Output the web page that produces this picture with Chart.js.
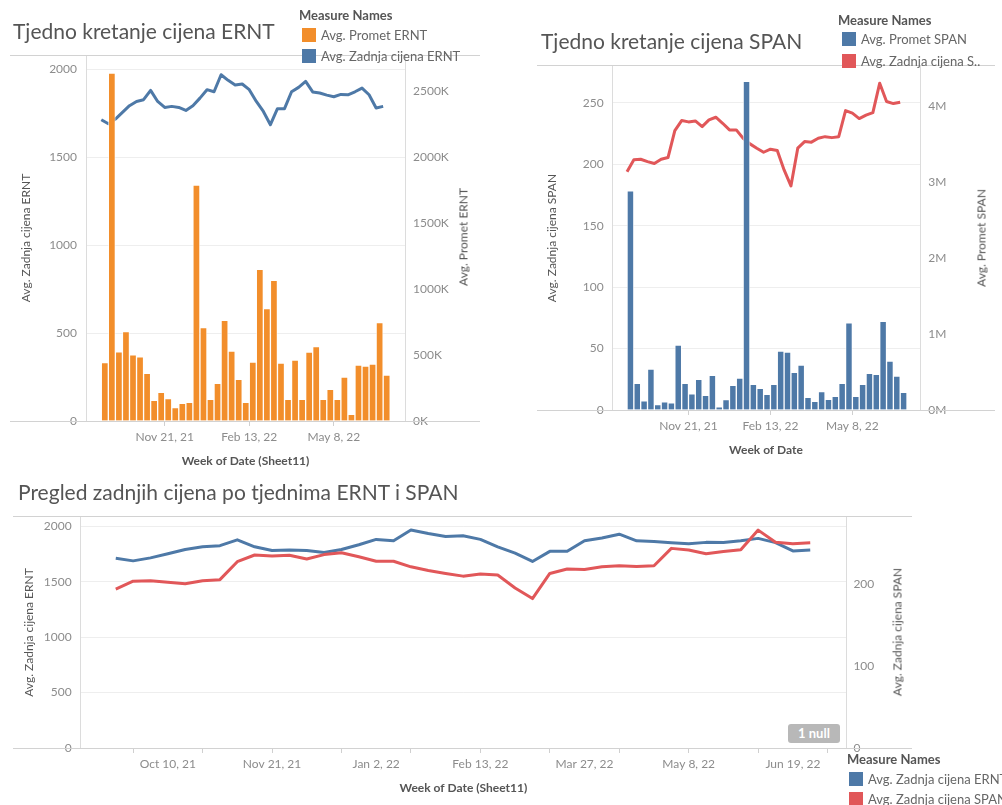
<!DOCTYPE html>
<html>
<head>
<meta charset="utf-8">
<script src="https://cdn.jsdelivr.net/npm/chart.js@4.4.0/dist/chart.umd.min.js"></script>
<style>
  body { margin: 0; width: 1002px; height: 805px; overflow: hidden; background: #fff; font-family: Lato, sans-serif; position: relative; }
  .naslov { position: absolute; font-size: 21px; line-height: 24px; color: #555; white-space: nowrap; }
  .crta { position: absolute; height: 1px; background: #d2d2d2; }
  .legNaslov { position: absolute; font-size: 13px; line-height: 16px; font-weight: bold; color: #555; white-space: nowrap; }
  .legStavka { position: absolute; font-size: 13px; line-height: 14px; color: #666; white-space: nowrap; }
  .legStavka span { position: absolute; left: 0; top: 0; width: 14px; height: 14px; }
  .legStavka i { position: absolute; left: 19px; top: 0; font-style: normal; }
  .osNaslov { position: absolute; font-size: 12px; color: #555; white-space: nowrap; transform: translate(-50%, -50%) rotate(-90deg); }
  .platno { position: absolute; }
  .null { position: absolute; left: 788px; top: 724px; width: 52px; height: 19px; line-height: 19px; background: #b8b8b8; border-radius: 3px; color: #fff; font-weight: bold; font-size: 13px; text-align: center; }
</style>
</head>
<body>

<canvas id="grafERNT" class="platno" style="left:0;top:0" width="500" height="480"></canvas>
<canvas id="grafSPAN" class="platno" style="left:530px;top:0" width="472" height="470"></canvas>
<canvas id="grafOba" class="platno" style="left:0;top:470px" width="1002" height="335"></canvas>

<div class="naslov" style="left:13px;top:19px">Tjedno kretanje cijena ERNT</div>
<div class="naslov" style="left:541px;top:29px">Tjedno kretanje cijena SPAN</div>
<div class="naslov" style="left:18px;top:480px">Pregled zadnjih cijena po tjednima ERNT i SPAN</div>

<div class="crta" style="left:10px;top:55px;width:470px"></div>
<div class="crta" style="left:10px;top:421px;width:470px"></div>
<div class="crta" style="left:537px;top:65px;width:458px"></div>
<div class="crta" style="left:537px;top:410px;width:458px"></div>
<div class="crta" style="left:13px;top:516px;width:899px"></div>
<div class="crta" style="left:13px;top:748px;width:899px"></div>

<div class="legNaslov" style="left:299px;top:7px">Measure Names</div>
<div class="legStavka" style="left:302px;top:28px"><span style="background:#F28E2B"></span><i>Avg. Promet ERNT</i></div>
<div class="legStavka" style="left:302px;top:49px"><span style="background:#4E79A7"></span><i>Avg. Zadnja cijena ERNT</i></div>

<div class="legNaslov" style="left:838px;top:12px">Measure Names</div>
<div class="legStavka" style="left:842px;top:32px"><span style="background:#4E79A7"></span><i>Avg. Promet SPAN</i></div>
<div class="legStavka" style="left:842px;top:54px"><span style="background:#E15759"></span><i>Avg. Zadnja cijena S..</i></div>

<div class="legNaslov" style="left:847px;top:751px">Measure Names</div>
<div class="legStavka" style="left:849px;top:772px"><span style="background:#4E79A7"></span><i>Avg. Zadnja cijena ERNT</i></div>
<div class="legStavka" style="left:849px;top:792px"><span style="background:#E15759"></span><i>Avg. Zadnja cijena SPAN</i></div>

<div class="osNaslov" style="left:463px;top:237px">Avg. Promet ERNT</div>
<div class="osNaslov" style="left:981px;top:238px">Avg. Promet SPAN</div>
<div class="osNaslov" style="left:897px;top:632px">Avg. Zadnja cijena SPAN</div>

<div class="null">1 null</div>

<script>
const tjedni = [
  'Sep 19, 21', 'Sep 26, 21', 'Oct 3, 21', 'Oct 10, 21', 'Oct 17, 21', 'Oct 24, 21', 'Oct 31, 21',
  'Nov 7, 21', 'Nov 14, 21', 'Nov 21, 21', 'Nov 28, 21', 'Dec 5, 21', 'Dec 12, 21', 'Dec 19, 21',
  'Dec 26, 21', 'Jan 2, 22', 'Jan 9, 22', 'Jan 16, 22', 'Jan 23, 22', 'Jan 30, 22', 'Feb 6, 22',
  'Feb 13, 22', 'Feb 20, 22', 'Feb 27, 22', 'Mar 6, 22', 'Mar 13, 22', 'Mar 20, 22', 'Mar 27, 22',
  'Apr 3, 22', 'Apr 10, 22', 'Apr 17, 22', 'Apr 24, 22', 'May 1, 22', 'May 8, 22', 'May 15, 22',
  'May 22, 22', 'May 29, 22', 'Jun 5, 22', 'Jun 12, 22', 'Jun 19, 22', 'Jun 26, 22'
];

const prometERNT = [
  442000, 2636000, 525000, 677000, 502000, 487000, 361000, 157000, 217000, 169000, 101000,
  134000, 142000, 1788000, 707000, 164000, 286000, 763000, 530000, 316000, 142000, 447000,
  1149000, 851000, 1066000, 439000, 164000, 462000, 164000, 523000, 563000, 164000, 240000,
  164000, 333000, 51000, 424000, 417000, 432000, 745000, 348000
];
const cijenaERNT = [
  1712, 1689, 1716, 1754, 1792, 1816, 1826, 1879, 1816, 1782, 1788, 1782, 1765, 1792, 1835,
  1883, 1871, 1968, 1936, 1909, 1915, 1883, 1816, 1759, 1684, 1775, 1775, 1871, 1896, 1930,
  1870, 1864, 1852, 1843, 1856, 1854, 1871, 1892, 1854, 1779, 1788
];
const prometSPAN = [
  2886000, 351000, 122000, 539000, 70000, 109000, 96000, 855000, 351000, 214000, 404000,
  193000, 457000, 43000, 136000, 325000, 421000, 4329000, 338000, 286000, 207000, 338000,
  776000, 763000, 496000, 592000, 167000, 114000, 241000, 141000, 180000, 351000, 1149000,
  180000, 338000, 483000, 470000, 1167000, 645000, 447000, 233000
];
const cijenaSPAN = [
  194.0, 203.6, 204.1, 202.2, 200.6, 204.1, 205.5, 227.4, 235.6, 234.5, 235.3, 230.7, 236.1,
  238.3, 233.4, 228.0, 228.0, 221.2, 216.6, 213.1, 209.8, 212.3, 211.2, 195.4, 182.4, 213.1,
  218.5, 218.0, 221.2, 222.5, 221.7, 222.5, 243.7, 241.6, 237.2, 240.0, 242.1, 266.0, 251.1,
  249.4, 250.5
];

// oznake na osima
const oznakeGore = [9, 21, 33];
const oznakeDolje = [3, 9, 15, 21, 27, 33, 39];
const crticeDolje = [1, 5, 9, 13, 17, 21, 25, 29, 33, 37, 41];
const ticksCijenaERNT = [0, 500, 1000, 1500, 2000];
const ticksPrometERNT = [0, 500000, 1000000, 1500000, 2000000, 2500000];
const ticksCijenaSPAN = [0, 50, 100, 150, 200, 250];
const ticksPrometSPAN = [0, 1000000, 2000000, 3000000, 4000000];
const ticksSPANdolje = [0, 100, 200];

const NARANCASTA = '#F28E2B';
const PLAVA = '#4E79A7';
const CRVENA = '#E15759';
const SIVA_TEKST = '#8c8c8c';
const FONT = 'Lato';
// stupci u Tableauu krecu od datuma, pa ih pomaknem pola tjedna
const POMAK = 0.5;

function uTocke(niz, pomak) {
  return niz.map((v, i) => ({ x: i + pomak, y: v }));
}

function xOs(min, max, visina, oznake, crtice, naslov, razmakNaslova, razmakOznaka) {
  const sve = [...new Set([...oznake, ...crtice])].sort((a, b) => a - b);
  return {
    type: 'linear',
    offset: false,
    min: min,
    max: max,
    afterBuildTicks: s => { s.ticks = sve.map(v => ({ value: v })); },
    afterFit: s => { s.height = visina; },
    border: { display: false },
    grid: {
      offset: false,
      drawOnChartArea: false,
      drawTicks: true,
      tickLength: 5,
      tickColor: c => (c.tick && crtice.includes(c.tick.value)) ? '#d0d0d0' : 'rgba(0,0,0,0)'
    },
    ticks: {
      autoSkip: false,
      maxRotation: 0,
      padding: razmakOznaka,
      color: SIVA_TEKST,
      font: { family: FONT, size: 12 },
      callback: v => oznake.includes(v) ? tjedni[v] : ''
    },
    title: {
      display: true,
      text: naslov,
      color: '#555',
      font: { family: FONT, size: 12, weight: 'bold' },
      padding: { top: 0, bottom: razmakNaslova }
    }
  };
}

function yOs(polozaj, max, vrijednosti, sirina, razmak, oblik, naslov, razmakNaslova, mreza) {
  const os = {
    position: polozaj,
    min: 0,
    max: max,
    afterBuildTicks: s => { s.ticks = vrijednosti.map(v => ({ value: v })); },
    afterFit: s => { s.width = sirina; },
    border: { display: true, color: '#dcdcdc' },
    grid: mreza ? { color: '#eeeeee', drawTicks: false } : { drawOnChartArea: false, drawTicks: false },
    ticks: {
      padding: razmak,
      color: SIVA_TEKST,
      font: { family: FONT, size: 12 },
      callback: oblik
    }
  };
  if (naslov) {
    os.title = {
      display: true,
      text: naslov,
      color: '#555',
      font: { family: FONT, size: 12 },
      padding: { top: razmakNaslova, bottom: 0 }
    };
  }
  return os;
}

const osnovno = {
  responsive: false,
  animation: false,
  plugins: { legend: { display: false }, tooltip: { enabled: false } }
};

new Chart(document.getElementById('grafERNT'), {
  type: 'bar',
  data: {
    datasets: [
      {
        type: 'bar',
        data: uTocke(prometERNT, POMAK),
        yAxisID: 'yPromet',
        backgroundColor: NARANCASTA,
        borderColor: 'rgba(255,255,255,0.6)',
        borderWidth: 1,
        barPercentage: 1,
        categoryPercentage: 1,
        order: 0
      },
      {
        type: 'line',
        data: uTocke(cijenaERNT, 0),
        yAxisID: 'yCijena',
        borderColor: PLAVA,
        borderWidth: 3,
        pointRadius: 0,
        tension: 0,
        borderJoinStyle: 'round',
        order: 1
      }
    ]
  },
  options: {
    ...osnovno,
    layout: { padding: { top: 55, left: 0, right: 0, bottom: 0 } },
    scales: {
      x: xOs(-2.17, 43.1, 59, oznakeGore, oznakeGore, 'Week of Date (Sheet11)', 12, 4),
      yCijena: yOs('left', 2080, ticksCijenaERNT, 86, 9, v => v, 'Avg. Zadnja cijena ERNT', 18.8, true),
      yPromet: yOs('right', 2773000, ticksPrometERNT, 95, 8, v => (v / 1000) + 'K', null, 0, false)
    }
  }
});

new Chart(document.getElementById('grafSPAN'), {
  type: 'bar',
  data: {
    datasets: [
      {
        type: 'bar',
        data: uTocke(prometSPAN, POMAK),
        yAxisID: 'yPromet',
        backgroundColor: PLAVA,
        borderColor: 'rgba(255,255,255,0.6)',
        borderWidth: 1,
        barPercentage: 1,
        categoryPercentage: 1,
        order: 0
      },
      {
        type: 'line',
        data: uTocke(cijenaSPAN, 0),
        yAxisID: 'yCijena',
        borderColor: CRVENA,
        borderWidth: 3,
        pointRadius: 0,
        tension: 0,
        borderJoinStyle: 'round',
        order: 1
      }
    ]
  },
  options: {
    ...osnovno,
    layout: { padding: { top: 66, left: 0, right: 0, bottom: 0 } },
    scales: {
      x: xOs(-2.2, 42.9, 60, oznakeGore, oznakeGore, 'Week of Date', 12.8, 3.5),
      yCijena: yOs('left', 280, ticksCijenaSPAN, 82, 8.4, v => v, 'Avg. Zadnja cijena SPAN', 14.8, true),
      yPromet: yOs('right', 4530000, ticksPrometSPAN, 82, 8.3, v => (v / 1000000) + 'M', null, 0, false)
    }
  }
});

new Chart(document.getElementById('grafOba'), {
  type: 'line',
  data: {
    datasets: [
      {
        data: uTocke(cijenaSPAN, 0),
        yAxisID: 'ySPAN',
        borderColor: CRVENA,
        borderWidth: 3,
        pointRadius: 0,
        tension: 0,
        borderJoinStyle: 'round',
        order: 0
      },
      {
        data: uTocke(cijenaERNT, 0),
        yAxisID: 'yERNT',
        borderColor: PLAVA,
        borderWidth: 3,
        pointRadius: 0,
        tension: 0,
        borderJoinStyle: 'round',
        order: 1
      }
    ]
  },
  options: {
    ...osnovno,
    layout: { padding: { top: 47, left: 0, right: 0, bottom: 0 } },
    scales: {
      x: xOs(-2.06, 42.1, 57, oznakeDolje, crticeDolje, 'Week of Date (Sheet11)', 9.5, 3.8),
      yERNT: yOs('left', 2085, ticksCijenaERNT, 80, 8.3, v => v, 'Avg. Zadnja cijena ERNT', 21.8, true),
      ySPAN: yOs('right', 282, ticksSPANdolje, 155.3, 6.7, v => v, null, 0, false)
    }
  }
});
</script>
</body>
</html>
